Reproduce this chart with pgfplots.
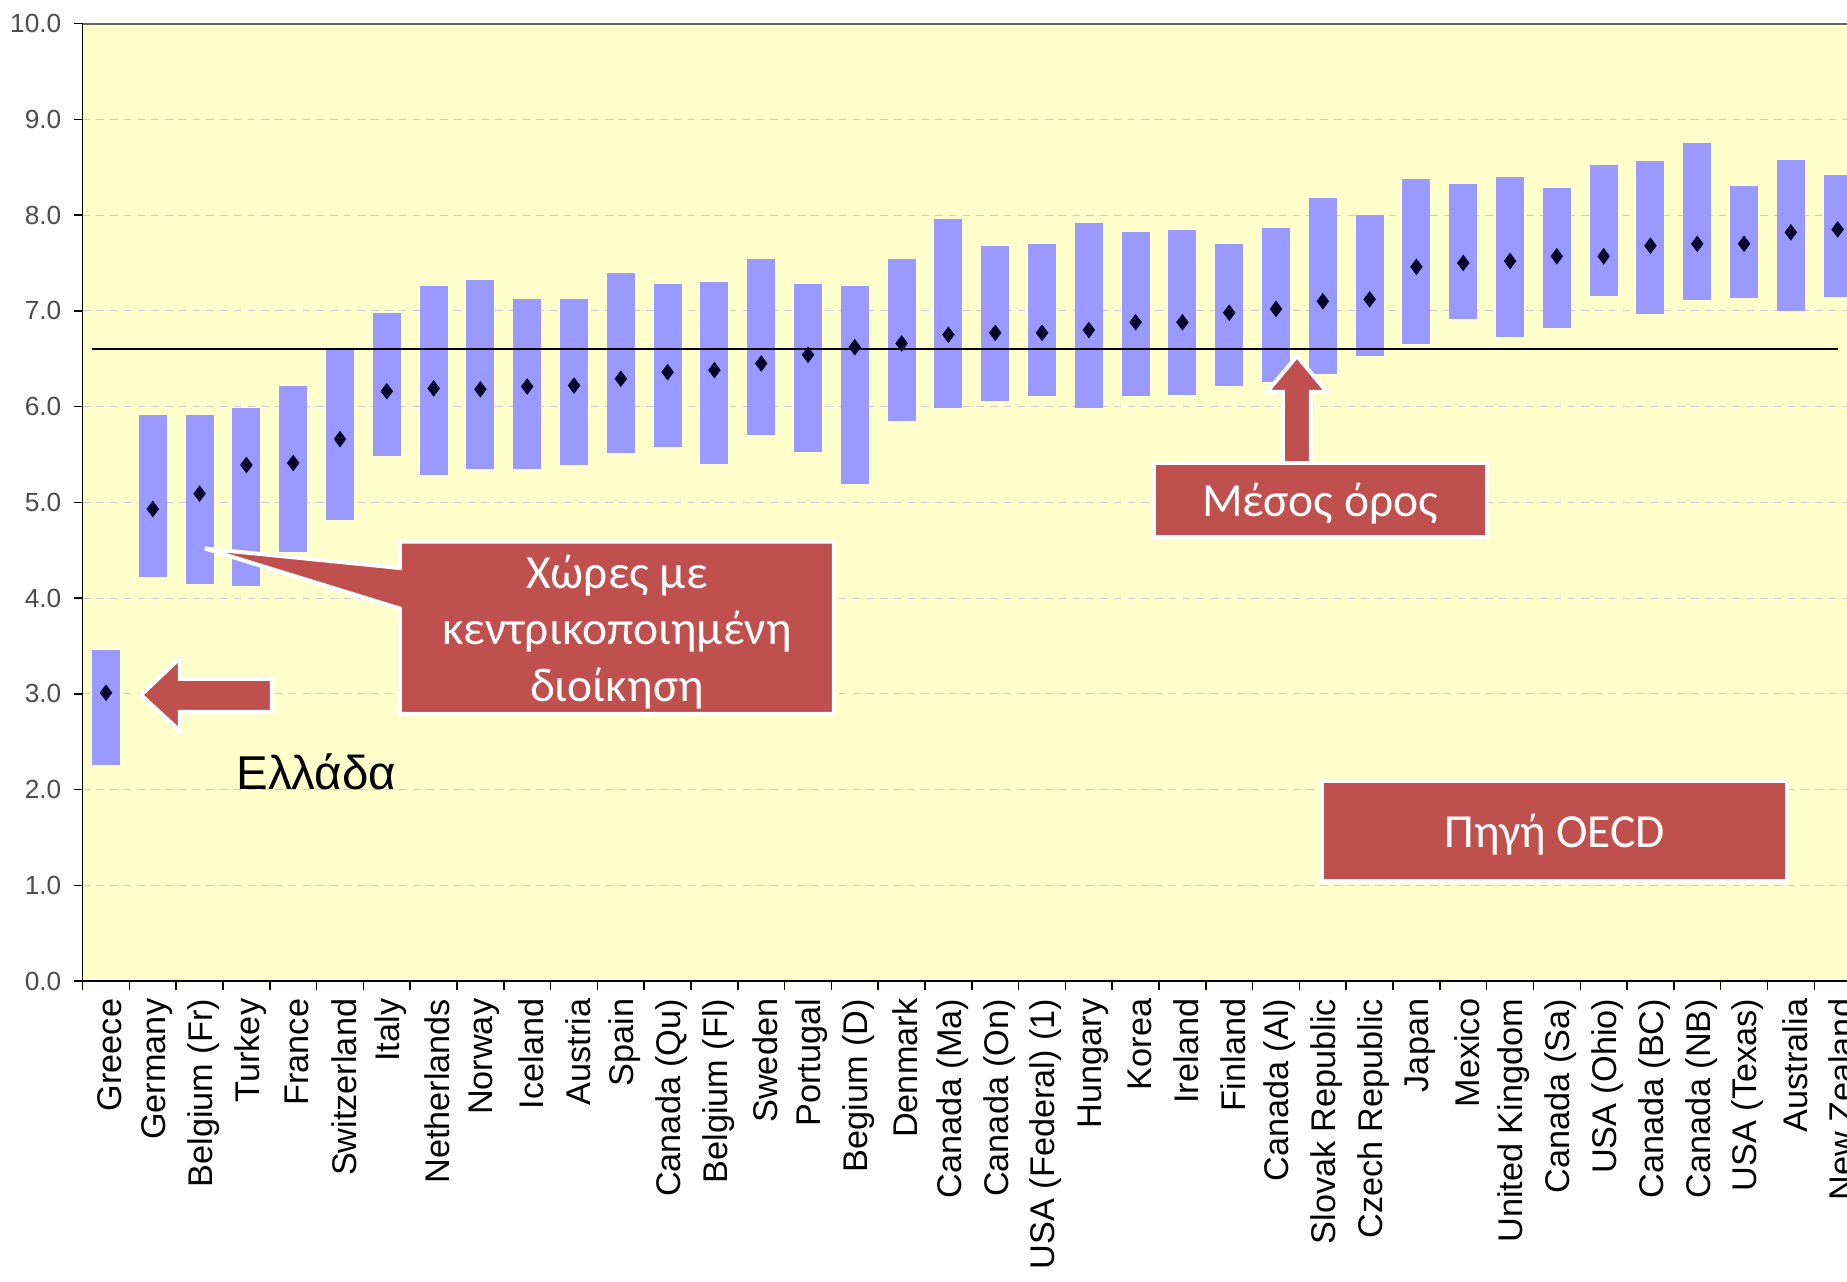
\documentclass[border=0pt]{standalone}
\usepackage{fontspec}
\setmainfont{Liberation Sans}
\newfontfamily\calib{Carlito}
\usepackage{pgfplots}
\pgfplotsset{compat=1.18}
\usepackage{pgfplotstable}
\definecolor{bgyellow}{RGB}{255,255,204}
\definecolor{barblue}{RGB}{153,153,255}
\definecolor{boxred}{RGB}{192,80,77}
\definecolor{marknavy}{RGB}{0,0,40}
\pgfplotstableread{
x bot top mean
0 2.26 3.46 3.01
1 4.22 5.91 4.93
2 4.15 5.91 5.09
3 4.13 5.99 5.39
4 4.48 6.22 5.41
5 4.81 6.61 5.66
6 5.48 6.98 6.16
7 5.28 7.26 6.19
8 5.35 7.32 6.18
9 5.35 7.12 6.21
10 5.39 7.12 6.22
11 5.52 7.40 6.29
12 5.58 7.28 6.36
13 5.40 7.30 6.38
14 5.70 7.54 6.45
15 5.53 7.28 6.54
16 5.19 7.26 6.62
17 5.85 7.54 6.66
18 5.98 7.96 6.75
19 6.06 7.68 6.77
20 6.11 7.70 6.77
21 5.98 7.92 6.80
22 6.11 7.82 6.88
23 6.12 7.84 6.88
24 6.22 7.70 6.98
25 6.26 7.86 7.02
26 6.34 8.18 7.10
27 6.53 8.00 7.12
28 6.65 8.38 7.46
29 6.91 8.32 7.50
30 6.73 8.40 7.52
31 6.82 8.28 7.57
32 7.15 8.52 7.57
33 6.97 8.56 7.68
34 7.11 8.75 7.70
35 7.13 8.30 7.70
36 7.00 8.58 7.82
37 7.14 8.42 7.85
}\data
\begin{document}
\begin{tikzpicture}
\useasboundingbox (0,0) rectangle (738.8pt,512.4pt);
\begin{axis}[
  at={(33.04pt,120pt)}, anchor=south west,
  scale only axis, width=705.76pt, height=382.96pt,
  xmin=-0.5, xmax=37.2, ymin=0, ymax=10,
  axis lines=left, axis line style={-, black, line width=0.6pt},
  axis background/.style={fill=bgyellow},
  tick align=outside,
  major tick length=3.6pt, minor tick length=3.6pt,
  tick style={black, line width=0.6pt},
  xtick={0,...,37},
  xticklabels={Greece, Germany, Belgium (Fr), Turkey, France, Switzerland, Italy, Netherlands, Norway, Iceland, Austria, Spain, Canada (Qu), Belgium (Fl), Sweden, Portugal, Begium (D), Denmark, Canada (Ma), Canada (On), USA (Federal) (1), Hungary, Korea, Ireland, Finland, Canada (Al), Slovak Republic, Czech Republic, Japan, Mexico, United Kingdom, Canada (Sa), USA (Ohio), Canada (BC), Canada (NB), USA (Texas), Australia, New Zealand},
  minor xtick={-0.5,0.5,...,36.5},
  major x tick style={draw=none},
  x tick label style={rotate=90, anchor=east, yshift=-1.6pt, font=\fontsize{13.7}{16}\selectfont},
  ytick={0,1,...,10},
  yticklabel style={/pgf/number format/fixed, /pgf/number format/fixed zerofill, /pgf/number format/precision=1, /pgf/number format/assume math mode=true, xshift=-1.4pt, font=\fontsize{10.5}{12}\selectfont, text=black!70},
  ymajorgrids, major grid style={black!20, dash pattern=on 3pt off 2.5pt},
  clip=false,
]
\addplot[only marks, mark=none, color=barblue,
  error bars/.cd, y dir=both, y explicit, error mark=none,
  error bar style={line width=11.23pt, barblue}]
  table[x=x, y=mean, y error plus expr=\thisrow{top}-\thisrow{mean}, y error minus expr=\thisrow{mean}-\thisrow{bot}] {\data};
\addplot[black, line width=0.7pt, mark=none] coordinates {(-0.3,6.6) (37,6.6)};
\addplot[only marks, mark=diamond*, mark size=3pt, color=marknavy] table[x=x, y=mean] {\data};
\draw[black!60, line width=0.8pt] (rel axis cs:0,1) -- (rel axis cs:1,1);
\end{axis}
\begin{scope}[x=0.4pt, y=-0.4pt, shift={(0pt,512.4pt)}]
\draw[white, line width=1.6pt, fill=boxred, line join=miter]
  (400,541.6) -- (834,541.6) -- (834,714) -- (400,714) -- (400,608.6) -- (205,548.5) -- (400,568) -- cycle;
\node[text=white, font=\calib\fontsize{19}{22.6}\selectfont, align=center] at (617,632) {Χώρες με\\κεντρικοποιημένη\\διοίκηση};
\draw[white, line width=1.6pt, fill=boxred, line join=miter]
  (141,695) -- (180,658) -- (180,679) -- (272,679) -- (272,712) -- (180,712) -- (180,731) -- cycle;
\node[font=\fontsize{19}{23}\selectfont, anchor=base west, inner sep=0pt] at (236,790) {Ελλάδα};
\draw[white, line width=1.6pt, fill=boxred, line join=miter]
  (1297,356) -- (1327,392) -- (1311,392) -- (1311,466) -- (1283,466) -- (1283,392) -- (1267,392) -- cycle;
\draw[white, line width=1.6pt, fill=boxred] (1154,463) rectangle (1487,537);
\node[text=white, font=\calib\fontsize{19}{22.6}\selectfont] at (1320,504) {Μέσος όρος};
\draw[white, line width=1.6pt, fill=boxred] (1322,781) rectangle (1787,881);
\node[text=white, font=\calib\fontsize{19}{22.6}\selectfont] at (1555,835) {Πηγή OECD};
\end{scope}
\end{tikzpicture}
\end{document}
